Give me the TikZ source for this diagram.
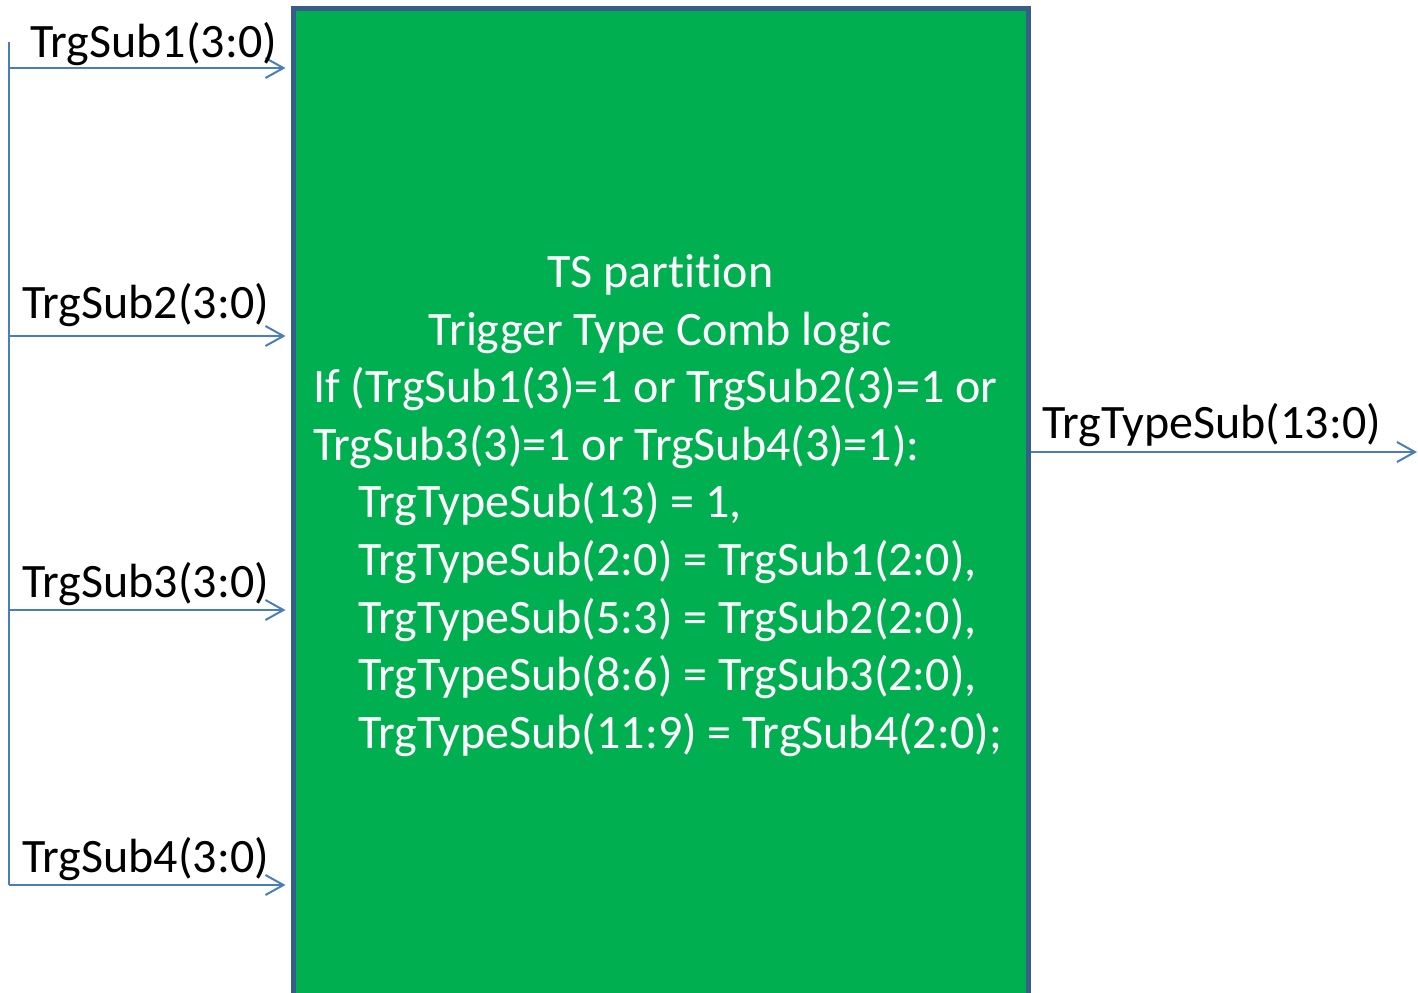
\documentclass[tikz,border=0pt]{standalone}
\usepackage{fontspec}
\setmainfont{Carlito}[Ligatures=NoCommon]
\usetikzlibrary{arrows.meta}
\definecolor{tsgreen}{HTML}{00B050}
\definecolor{tsborder}{HTML}{385D8A}
\definecolor{sigblue}{HTML}{4A7EBB}
\begin{document}
\begin{tikzpicture}[x=0.5pt,y=-0.5pt]

\tikzset{tsbox/.style={draw=tsborder,fill=tsgreen,line width=2.5pt,
                       minimum width=367.5pt,minimum height=501pt,inner sep=0pt}}
\tikzset{sig/.style={draw=sigblue,line width=1pt,-{Straight Barb[length=9pt,width=10pt]}}}
\tikzset{bus/.style={draw=sigblue,line width=1pt}}
\tikzset{siglabel/.style={font=\fontsize{24}{28.8}\selectfont,inner sep=0pt,anchor=base west}}
\tikzset{boxtext/.style={siglabel,text=white}}

\useasboundingbox (0,0) rectangle (1418,992);

\node[tsbox] (ts) at (660.5,509) {};

\node[boxtext,anchor=base] (title1) at (660.5,287) {TS partition};
\node[boxtext,anchor=base] (title2) at (660.5,345) {Trigger Type Comb logic};
\foreach \dx/\txt [count=\i] in {313/{If (TrgSub1(3)=1 or TrgSub2(3)=1 or},
                                 313/{TrgSub3(3)=1 or TrgSub4(3)=1):},
                                 358/{TrgTypeSub(13) = 1,},
                                 358/{TrgTypeSub(2:0) = TrgSub1(2:0),},
                                 358/{TrgTypeSub(5:3) = TrgSub2(2:0),},
                                 358/{TrgTypeSub(8:6) = TrgSub3(2:0),},
                                 358/{TrgTypeSub(11:9) = TrgSub4(2:0);}}
  \node[boxtext] (line\i) at (\dx,345+57.6*\i) {\txt};

% inputs
\coordinate (bustop) at (9,42);
\coordinate (in1) at (9,68);
\coordinate (in2) at (9,336);
\coordinate (in3) at (9,610);
\coordinate (in4) at (9,885);
\draw[bus] (bustop) -- (in4);
\foreach \i in {1,...,4}
  \draw[sig,shorten >=2.5pt] (in\i) -- (in\i -| ts.west);

\node[siglabel] (sub1) at (30,57) {TrgSub1(3:0)};
\node[siglabel] (sub2) at (22,318) {TrgSub2(3:0)};
\node[siglabel] (sub3) at (22,597) {TrgSub3(3:0)};
\node[siglabel] (sub4) at (22,872) {TrgSub4(3:0)};

% output
\coordinate (out) at (1417,452);
\draw[sig] (out -| ts.east) -- (out);
\node[siglabel] (typesub) at (1042,438) {TrgTypeSub(13:0)};

\end{tikzpicture}
\end{document}
